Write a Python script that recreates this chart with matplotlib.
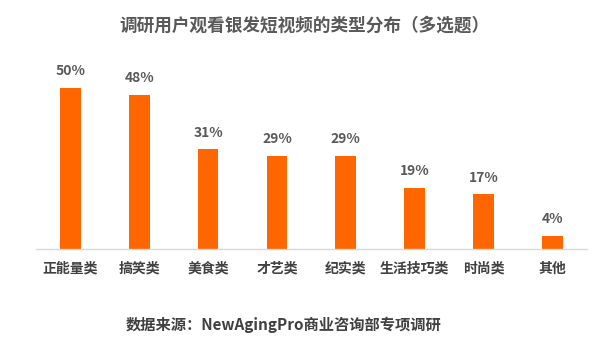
import matplotlib.pyplot as plt

plt.rcParams['font.family'] = ['Noto Sans CJK SC', 'DejaVu Sans']

# 银发用户观看短视频类型（多选题）
categories = ['正能量类', '搞笑类', '美食类', '才艺类', '纪实类', '生活技巧类', '时尚类', '其他']
shares = [50, 48, 31, 29, 29, 19, 17, 4]

fig = plt.figure(figsize=(6, 3.43), dpi=100)
ax = fig.add_axes([0.06, 0.274, 0.918, 0.516])

x = range(len(categories))
ax.bar(x, shares, width=0.3, color='#FF6600', zorder=2)

for i, v in enumerate(shares):
    ax.text(i, v + 3, f'{v}%', ha='center', va='bottom', fontsize=10,
            fontweight='bold', color='#595959')

ax.set_xlim(-0.5, len(categories) - 0.5)
ax.set_ylim(0, 55)
ax.set_xticks(list(x))
ax.set_xticklabels(categories, fontsize=10, fontweight='bold', color='#404040')
ax.tick_params(axis='x', length=0, pad=9)
ax.set_yticks([])
for side in ['top', 'right', 'left']:
    ax.spines[side].set_visible(False)
ax.spines['bottom'].set_color('#d9d9d9')
ax.spines['bottom'].set_linewidth(1)

fig.text(0.508, 0.925, '调研用户观看银发短视频的类型分布（多选题）', ha='center', va='center',
         fontsize=12.7, fontweight='bold', color='#595959')
fig.text(0.473, 0.052, '数据来源：NewAgingPro商业咨询部专项调研', ha='center', va='center',
         fontsize=11, fontweight='bold', color='#404040')

fig.savefig('out.png', dpi=100, facecolor='white')
